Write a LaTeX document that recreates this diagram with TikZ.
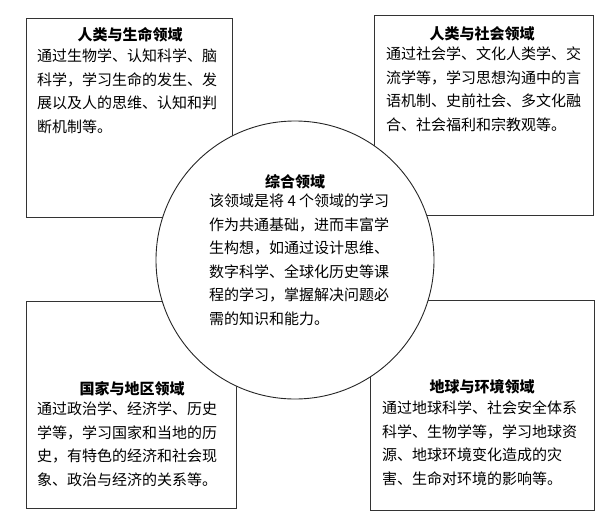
\documentclass[tikz,border=0pt]{standalone}
\usepackage{fontspec}
\setmainfont{Noto Sans CJK SC}
\begin{document}
\begin{tikzpicture}[x=1pt,y=-1pt,
  box/.style={draw=black!80,line width=0.9pt},
  ttl/.style={font=\fontsize{15}{18}\selectfont\bfseries,anchor=center,inner sep=0},
  body/.style={font=\fontsize{15}{23.5}\selectfont,align=left,anchor=north west,inner sep=0}]
\useasboundingbox (0,0) rectangle (615,525);
\draw[box] (26,18) rectangle (232,217);
\draw[box] (374,15) rectangle (593,215);
\draw[box] (26,301) rectangle (236,508);
\draw[box] (370,300) rectangle (594,510);
\node[draw=black!85,line width=0.9pt,fill=white,circle,minimum size=278pt,inner sep=0] (c) at (295,260) {};
\node[ttl] (t1) at (130,35) {人类与生命领域};
\node[body] (b1) at (37,49) {通过生物学、认知科学、脑\\科学，学习生命的发生、发\\展以及人的思维、认知和判\\断机制等。};
\node[ttl] (t2) at (482,34) {人类与社会领域};
\node[body] (b2) at (386,47) {通过社会学、文化人类学、交\\流学等，学习思想沟通中的言\\语机制、史前社会、多文化融\\合、社会福利和宗教观等。};
\node[ttl] (t0) at (295,182) {综合领域};
\node[body] (b0) at (209,194) {该领域是将 4 个领域的学习\\作为共通基础，进而丰富学\\生构想，如通过设计思维、\\数字科学、全球化历史等课\\程的学习，掌握解决问题必\\需的知识和能力。};
\node[ttl] (t3) at (132,389) {国家与地区领域};
\node[body] (b3) at (37,402) {通过政治学、经济学、历史\\学等，学习国家和当地的历\\史，有特色的经济和社会现\\象、政治与经济的关系等。};
\node[ttl] (t4) at (482,387) {地球与环境领域};
\node[body] (b4) at (382,401) {通过地球科学、社会安全体系\\科学、生物学等，学习地球资\\源、地球环境变化造成的灾\\害、生命对环境的影响等。};
\end{tikzpicture}
\end{document}
